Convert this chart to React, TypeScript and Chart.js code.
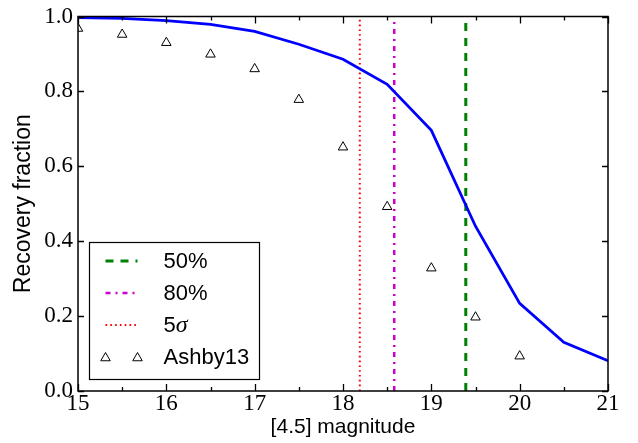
import React, { useEffect, useRef } from 'react';
import { Chart, registerables } from 'chart.js';

Chart.register(...registerables);

const magnitudes = [15, 15.5, 16, 16.5, 17, 17.5, 18, 18.5, 19, 19.5, 20, 20.5, 21];
const recoveryFraction = [0.997, 0.995, 0.989, 0.979, 0.96, 0.926, 0.886, 0.819, 0.696, 0.44, 0.234, 0.13, 0.081];

const ashbyMagnitudes = [15, 15.5, 16, 16.5, 17, 17.5, 18, 18.5, 19, 19.5, 20];
const ashbyFraction = [0.968, 0.952, 0.93, 0.899, 0.86, 0.778, 0.651, 0.492, 0.328, 0.197, 0.093];

const limitLabels = ['50%', '80%', '5σ'];
const limitMagnitudes = [19.39, 18.58, 18.19];
const limitColors = ['#008000', '#cc00cc', '#ff0000'];
const limitDashes = [[8, 7], [5, 5, 2, 5], [1.6, 3.2]];
const limitWidths = [3, 2.5, 2];

const X_MIN = 15, X_MAX = 21, X_STEP = 0.5;
const Y_MIN = 0, Y_MAX = 1, Y_STEP = 0.2;

const SANS = "'Liberation Sans', Arial, sans-serif";
const SERIF = "'Liberation Serif', 'Times New Roman', serif";

function drawTriangle(ctx: CanvasRenderingContext2D, x: number, y: number, r: number) {
  ctx.beginPath();
  let rad = 0;
  for (let i = 0; i < 3; i++) {
    const px = x + Math.sin(rad) * r;
    const py = y - Math.cos(rad) * r;
    if (i === 0) ctx.moveTo(px, py); else ctx.lineTo(px, py);
    rad += (2 * Math.PI) / 3;
  }
  ctx.closePath();
  ctx.stroke();
}

const framePlugin = {
  id: 'frameTicks',
  afterDraw(chart: any) {
    const { ctx, chartArea } = chart;
    const xs = chart.scales.x;
    const ys = chart.scales.y;
    ctx.save();
    ctx.strokeStyle = '#000';
    ctx.lineWidth = 1.3;
    ctx.beginPath();
    xs.ticks.forEach((t: any) => {
      const px = Math.round(xs.getPixelForValue(t.value)) + 0.5;
      const len = Number.isInteger(t.value) ? 7 : 4;
      ctx.moveTo(px, chartArea.bottom);
      ctx.lineTo(px, chartArea.bottom - len);
      ctx.moveTo(px, chartArea.top);
      ctx.lineTo(px, chartArea.top + len);
    });
    ys.ticks.forEach((t: any) => {
      const py = Math.round(ys.getPixelForValue(t.value)) + 0.5;
      ctx.moveTo(chartArea.left, py);
      ctx.lineTo(chartArea.left + 6, py);
      ctx.moveTo(chartArea.right, py);
      ctx.lineTo(chartArea.right - 6, py);
    });
    ctx.stroke();
    ctx.lineWidth = 1.5;
    ctx.strokeRect(chartArea.left, chartArea.top, chartArea.right - chartArea.left, chartArea.bottom - chartArea.top);
    ctx.restore();
  },
};

const legendPlugin = {
  id: 'boxLegend',
  afterDraw(chart: any) {
    const { ctx, chartArea } = chart;
    const x0 = chartArea.left + 11.5;
    const w = 170;
    const h = 137;
    const y0 = chartArea.bottom - 11.5 - h;
    ctx.save();
    ctx.fillStyle = '#fff';
    ctx.fillRect(x0, y0, w, h);
    ctx.strokeStyle = '#000';
    ctx.lineWidth = 1.2;
    ctx.strokeRect(x0, y0, w, h);

    const lx1 = x0 + 16;
    const lx2 = x0 + 48;
    const tx = x0 + 74;
    const rowY = (i: number) => y0 + 18.5 + i * 32;
    ctx.textBaseline = 'middle';
    ctx.fillStyle = '#000';
    limitLabels.forEach((lab, i) => {
      const y = rowY(i);
      ctx.save();
      ctx.strokeStyle = limitColors[i];
      ctx.lineWidth = limitWidths[i];
      ctx.setLineDash(limitDashes[i]);
      ctx.beginPath();
      ctx.moveTo(lx1, y);
      ctx.lineTo(lx2, y);
      ctx.stroke();
      ctx.restore();
      if (lab.endsWith('σ')) {
        const head = lab.slice(0, -1);
        ctx.font = `22px ${SANS}`;
        ctx.fillText(head, tx, y + 1);
        const hw = ctx.measureText(head).width;
        ctx.font = `italic 24px ${SERIF}`;
        ctx.fillText('σ', tx + hw, y + 1);
      } else {
        ctx.font = `22px ${SANS}`;
        ctx.fillText(lab, tx, y + 1);
      }
    });
    const y = rowY(3);
    ctx.strokeStyle = '#000';
    ctx.lineWidth = 1;
    drawTriangle(ctx, lx1, y + 1, 5.5);
    drawTriangle(ctx, lx2, y + 1, 5.5);
    ctx.font = `22px ${SANS}`;
    ctx.fillText('Ashby13', tx, y + 1);
    ctx.restore();
  },
};

export default function App() {
  const ref = useRef<HTMLCanvasElement | null>(null);
  useEffect(() => {
    document.body.style.margin = '0';
    const canvas = ref.current;
    if (!canvas) return;
    const datasets: any[] = [];
    datasets.push({
      label: 'Ashby13',
      data: ashbyMagnitudes.map((m, i) => ({ x: m, y: ashbyFraction[i] })),
      showLine: false,
      pointStyle: 'triangle',
      pointRadius: 5.5,
      borderColor: '#000',
      backgroundColor: 'rgba(255,255,255,0)',
      borderWidth: 1,
      order: 0,
    });
    datasets.push({
      label: 'completeness',
      data: magnitudes.map((m, i) => ({ x: m, y: recoveryFraction[i] })),
      showLine: true,
      borderColor: '#0000ff',
      borderWidth: 2.8,
      pointRadius: 0,
      tension: 0,
      order: 1,
    });
    limitLabels.forEach((lab, i) => {
      datasets.push({
        label: lab,
        data: [
          { x: limitMagnitudes[i], y: Y_MIN },
          { x: limitMagnitudes[i], y: Y_MAX },
        ],
        showLine: true,
        borderColor: limitColors[i],
        borderWidth: limitWidths[i],
        borderDash: limitDashes[i],
        pointRadius: 0,
        order: 2,
      });
    });

    const chart = new Chart(canvas, {
      type: 'scatter',
      data: { datasets },
      options: {
        animation: false,
        responsive: false,
        devicePixelRatio: 1,
        layout: { padding: { top: 13, right: 30, bottom: 0, left: 0 } },
        plugins: { legend: { display: false }, tooltip: { enabled: false } },
        scales: {
          x: {
            type: 'linear',
            min: X_MIN,
            max: X_MAX,
            afterFit: (s: any) => { s.height = 52; },
            grid: { display: false, drawTicks: false },
            border: { display: false },
            ticks: {
              stepSize: X_STEP,
              autoSkip: false,
              maxRotation: 0,
              padding: 1,
              color: '#000',
              font: { family: SERIF, size: 23, lineHeight: 1 },
              callback: (v: any) => (Number.isInteger(v) ? String(v) : ''),
            },
            title: {
              display: true,
              text: '[4.5] magnitude',
              color: '#000',
              font: { family: SANS, size: 21 },
              padding: { top: 0, bottom: 3 },
            },
          },
          y: {
            type: 'linear',
            min: Y_MIN,
            max: Y_MAX,
            afterFit: (s: any) => { s.width = 78; },
            grid: { display: false, drawTicks: false },
            border: { display: false },
            ticks: {
              stepSize: Y_STEP,
              padding: 5,
              color: '#000',
              font: { family: SERIF, size: 23, lineHeight: 1 },
              callback: (v: any) => Number(v).toFixed(1),
            },
            title: {
              display: true,
              text: 'Recovery fraction',
              color: '#000',
              font: { family: SANS, size: 23 },
              padding: { top: 10, bottom: 0 },
            },
          },
        },
      },
      plugins: [framePlugin, legendPlugin],
    } as any);
    return () => chart.destroy();
  }, []);
  return (
    <div style={{ width: 638, height: 443, background: '#fff' }}>
      <canvas ref={ref} width={638} height={443} style={{ display: 'block' }} />
    </div>
  );
}
